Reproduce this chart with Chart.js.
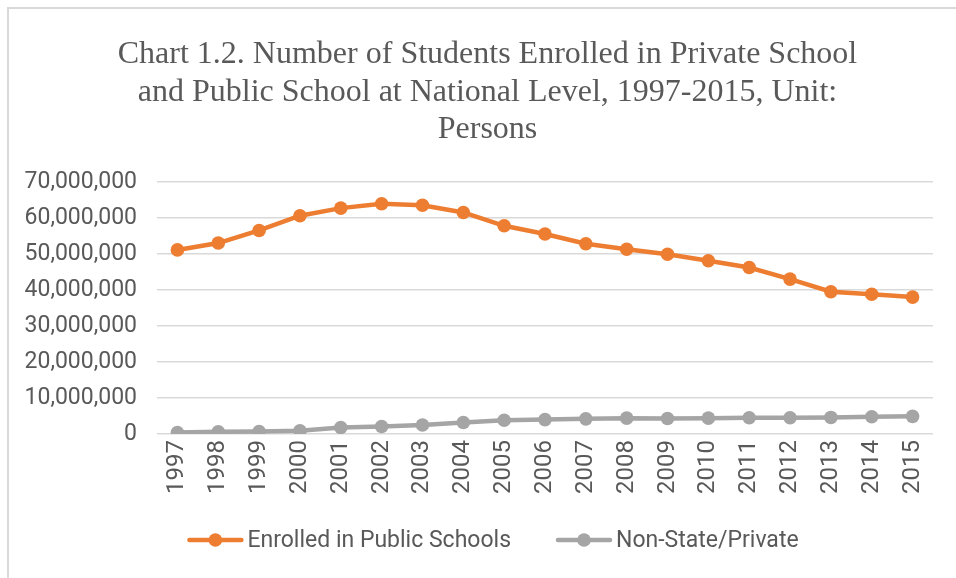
<!DOCTYPE html>
<html>
<head>
<meta charset="utf-8">
<script src="https://cdn.jsdelivr.net/npm/chart.js@4.4.1/dist/chart.umd.min.js"></script>
<style>
  html, body { margin: 0; padding: 0; background: #fff; }
  #wrap { position: relative; width: 956px; height: 578px; overflow: hidden; }
  #frame { position: absolute; left: 7px; top: 7px; width: 980px; height: 600px; border-left: 2px solid #d9d9d9; border-top: 2px solid #d9d9d9; box-sizing: border-box; pointer-events: none; }
  canvas { position: absolute; left: 0; top: 0; }
</style>
</head>
<body>
<div id="wrap">
  <canvas id="c" width="956" height="578"></canvas>
  <div id="frame"></div>
</div>
<script>
const titleLines = [
  "Chart 1.2. Number of Students Enrolled in Private School",
  "and Public School at National Level, 1997-2015, Unit:",
  "Persons"
];
const years = ["1997","1998","1999","2000","2001","2002","2003","2004","2005","2006","2007","2008","2009","2010","2011","2012","2013","2014","2015"];
const publicSchools = [51100000, 53000000, 56500000, 60600000, 62700000, 63900000, 63500000, 61500000, 57800000, 55500000, 52800000, 51300000, 49900000, 48100000, 46200000, 43000000, 39500000, 38800000, 38000000];
const privateSchools = [400000, 600000, 700000, 900000, 1800000, 2100000, 2500000, 3200000, 3800000, 4000000, 4200000, 4400000, 4300000, 4400000, 4500000, 4500000, 4600000, 4800000, 4900000];
const seriesNames = ["Enrolled in Public Schools", "Non-State/Private"];
const seriesColors = ["#ED7D31", "#A5A5A5"];
const yTicks = [0, 10000000, 20000000, 30000000, 40000000, 50000000, 60000000, 70000000];

const PLOT_LEFT = 157, LEFT_PAD = 20, X_AXIS_H = 70;

// shift title block so its centre matches the reference
const titleShift = {
  id: 'titleShift',
  afterLayout(chart) {
    if (chart.titleBlock) { chart.titleBlock.left += 11; chart.titleBlock.right += 11; }
  }
};

// legend drawn as line + marker, text beside it
const lineLegend = {
  id: 'lineLegend',
  afterDraw(chart) {
    const ctx = chart.ctx;
    const y = 540, lineW = 56, gap = 4, itemGap = 45;
    ctx.save();
    ctx.font = '23px Roboto, sans-serif';
    ctx.textBaseline = 'middle';
    ctx.textAlign = 'left';
    const ds = chart.data.datasets;
    const widths = ds.map(d => ctx.measureText(d.label).width);
    let total = 0;
    widths.forEach((w, i) => { total += lineW + gap + w + (i < widths.length - 1 ? itemGap : 0); });
    let x = 493 - total / 2;
    ds.forEach((d, i) => {
      ctx.strokeStyle = d.borderColor;
      ctx.lineWidth = 4.5;
      ctx.lineCap = 'round';
      ctx.beginPath(); ctx.moveTo(x + 2, y); ctx.lineTo(x + lineW - 2, y); ctx.stroke();
      ctx.fillStyle = d.borderColor;
      ctx.beginPath(); ctx.arc(x + lineW / 2, y, 6.8, 0, Math.PI * 2); ctx.fill();
      ctx.fillStyle = '#595959';
      ctx.fillText(d.label, x + lineW + gap, y + 1);
      x += lineW + gap + widths[i] + itemGap;
    });
    ctx.restore();
  }
};

new Chart(document.getElementById('c'), {
  type: 'line',
  plugins: [titleShift, lineLegend],
  data: {
    labels: years,
    datasets: [publicSchools, privateSchools].map((d, i) => ({
      label: seriesNames[i],
      data: d,
      borderColor: seriesColors[i],
      backgroundColor: seriesColors[i],
      borderWidth: 4.5,
      pointRadius: 6.8,
      pointHoverRadius: 6.8,
      pointBackgroundColor: seriesColors[i],
      pointBorderWidth: 0,
      tension: 0
    }))
  },
  options: {
    responsive: false,
    animation: false,
    events: [],
    layout: { padding: { left: LEFT_PAD, right: 23, top: 0, bottom: 578 - 434 - X_AXIS_H } },
    plugins: {
      title: {
        display: true,
        text: titleLines,
        color: '#595959',
        font: { family: '"Liberation Serif", "Times New Roman", serif', size: 32, weight: 'normal', lineHeight: 1.17 },
        padding: { top: 36, bottom: 33.5 }
      },
      legend: { display: false },
      tooltip: { enabled: false }
    },
    scales: {
      x: {
        offset: true,
        grid: { display: false, drawTicks: false },
        border: { display: false },
        ticks: {
          color: '#595959',
          font: { family: 'Roboto, sans-serif', size: 24 },
          maxRotation: 90, minRotation: 90,
          padding: 6,
          autoSkip: false
        },
        afterFit: (s) => { s.height = X_AXIS_H; }
      },
      y: {
        min: 0, max: 70000000,
        afterBuildTicks: (s) => { s.ticks = yTicks.map(v => ({ value: v })); },
        grid: { color: '#d9d9d9', lineWidth: 1.5, drawTicks: false },
        border: { display: false },
        ticks: {
          color: '#595959',
          font: { family: 'Roboto, sans-serif', size: 23 },
          padding: 20,
          callback: (v) => Number(v).toLocaleString('en-US')
        },
        afterFit: (s) => { s.width = PLOT_LEFT - LEFT_PAD; }
      }
    }
  }
});
</script>
</body>
</html>
